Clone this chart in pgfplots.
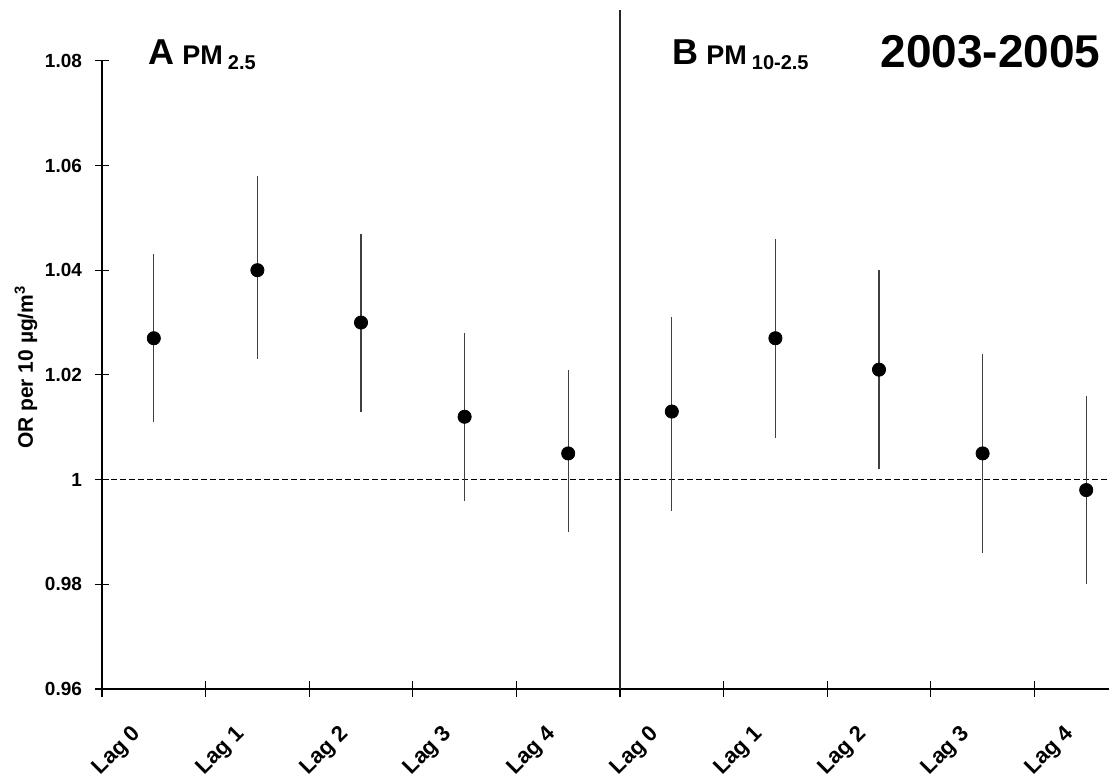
\documentclass[border=0pt]{standalone}
\usepackage{fontspec}
\setmainfont{Liberation Sans}
\usepackage{pgfplots}
\usepackage{pgfplotstable}
\pgfplotsset{compat=1.18}

% odds ratio with 95% CI, lags 0-4 for PM2.5 (0-4) and PM10-2.5 (5-9)
\pgfplotstableread{
x y lo hi
0 1.027 1.011 1.043
1 1.040 1.023 1.058
2 1.030 1.013 1.047
3 1.012 0.996 1.028
4 1.005 0.990 1.021
5 1.013 0.994 1.031
6 1.027 1.008 1.046
7 1.021 1.002 1.040
8 1.005 0.986 1.024
9 0.998 0.980 1.016
}\ortable

\begin{document}
\begin{tikzpicture}
\begin{axis}[
    name=ax,
    scale only axis,
    width=503.5pt, height=339.5pt,
    xmin=-0.5, xmax=9.22,
    ymin=0.96, ymax=1.0897,
    clip=false,
    axis x line*=bottom, axis y line*=left,
    x axis line style={-, line width=0.6pt},
    y axis line style={draw=none},
    tick align=center,
    major tick length=7pt,
    minor tick length=8pt,
    tick style={black, line width=0.6pt},
    xtick={0,...,9},
    xticklabels={Lag 0,Lag 1,Lag 2,Lag 3,Lag 4,Lag 0,Lag 1,Lag 2,Lag 3,Lag 4},
    major x tick style={draw=none},
    minor xtick={-0.5,0.5,...,8.5},
    ytick={0.96,0.98,1,1.02,1.04,1.06,1.08},
    yticklabels={0.96,0.98,1,1.02,1.04,1.06,1.08},
    /pgf/number format/assume math mode=true,
    yticklabel style={font=\bfseries\fontsize{9.5}{10}\selectfont, xshift=-3pt},
    xticklabel style={xshift=-5.5pt, yshift=-15pt, font=\bfseries\fontsize{11}{12}\selectfont,
        rotate=45, anchor=east},
    ylabel={OR per 10 µg/m\textsuperscript{3}},
    ylabel style={font=\bfseries\fontsize{10.5}{12}\selectfont, at={(axis description cs:-0.0755,0.474)}, anchor=center},
]
% left axis line stops at 1.08
\addplot[black, line width=0.6pt] coordinates {(-0.5,0.96) (-0.5,1.08)};
% divider between panels
\addplot[black!85, line width=1.1pt] coordinates {(4.5,0.96) (4.5,1.0897)};
% reference line OR = 1
\addplot[black, line width=0.5pt, dash pattern=on 3pt off 1.5pt] coordinates {(-0.5,1) (9.22,1)};

\addplot[only marks, mark=*, mark size=3.3pt, black,
    error bars/.cd, y dir=both, y explicit,
    error mark=none, error bar style={black!75, line width=0.6pt}]
    table[x=x, y=y,
      y error plus expr=\thisrow{hi}-\thisrow{y},
      y error minus expr=\thisrow{y}-\thisrow{lo}] {\ortable};

\node[anchor=base west, inner sep=0pt, font=\bfseries] at (axis cs:-0.056,1.0792)
  {{\fontsize{18}{18}\selectfont A}\hspace{4pt}{\fontsize{13.5}{14}\selectfont PM}\hspace{2.5pt}\raisebox{-2.5pt}{\fontsize{10}{10}\selectfont 2.5}};
\node[anchor=base west, inner sep=0pt, font=\bfseries] at (axis cs:5.002,1.0792)
  {{\fontsize{18}{18}\selectfont B}\hspace{4pt}{\fontsize{13.5}{14}\selectfont PM}\hspace{2.5pt}\raisebox{-2.5pt}{\fontsize{10}{10}\selectfont 10-2.5}};
\node[anchor=base east, inner sep=0pt, font=\bfseries\fontsize{23}{24}\selectfont] at (axis cs:9.143,1.0787) {2003-2005};
\end{axis}
\pgfresetboundingbox
\path[use as bounding box] ([xshift=-51pt,yshift=-46.5pt]ax.south west) rectangle ([yshift=5pt]ax.north east);
\end{tikzpicture}
\end{document}
